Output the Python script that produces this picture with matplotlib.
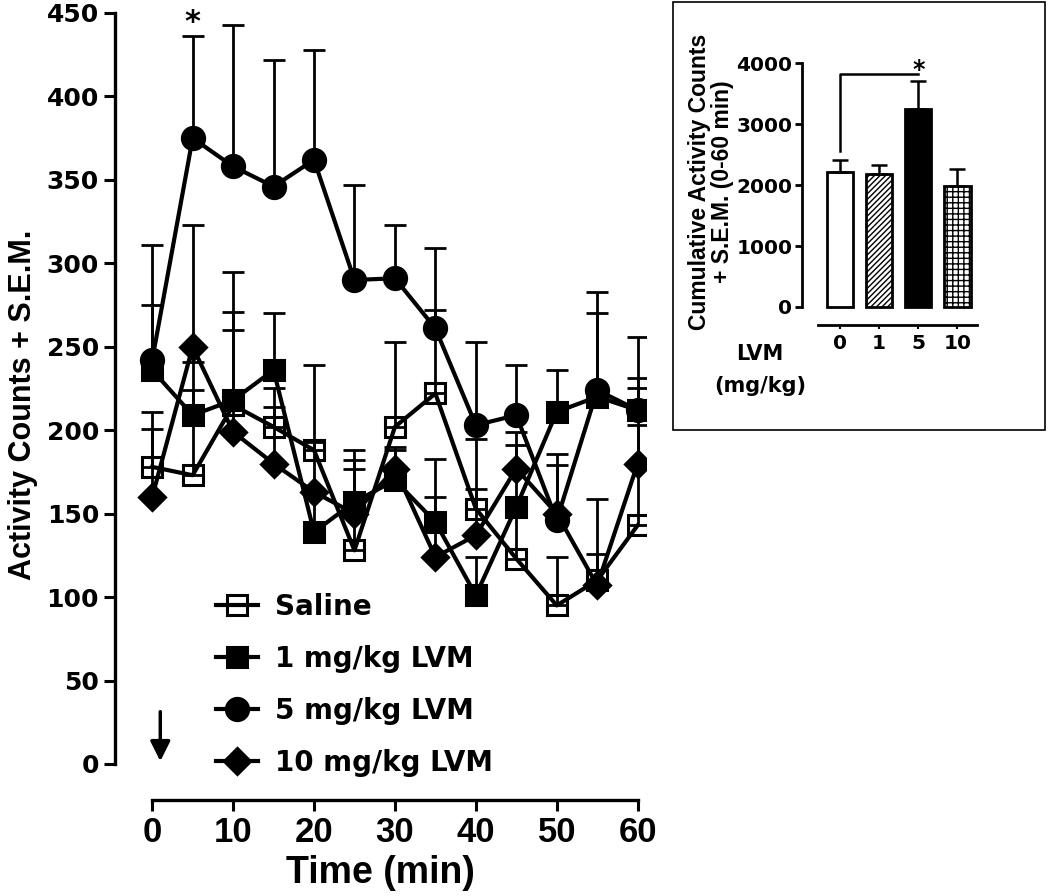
import numpy as np
import matplotlib
matplotlib.use("Agg")
import matplotlib.pyplot as plt
from matplotlib.patches import Rectangle

# =========================
# Data
# =========================
TIME_MIN = [0, 5, 10, 15, 20, 25, 30, 35, 40, 45, 50, 55, 60]

SALINE = [178, 173, 215, 202, 188, 128, 202, 222, 153, 123, 95, 110, 143]
SALINE_SEM = [33, 51, 56, 12, 51, 49, 51, 50, 42, 30, 29, 49, 82]

LVM_1 = [236, 209, 218, 236, 139, 157, 170, 145, 101, 154, 211, 220, 212]
LVM_1_SEM = [39, 32, 77, 34, 25, 31, 18, 38, 23, 37, 25, 63, 19]

LVM_5 = [242, 375, 358, 346, 362, 290, 291, 261, 203, 209, 146, 224, 212]
LVM_5_SEM = [69, 61, 85, 76, 66, 57, 32, 48, 50, 30, 40, 46, 44]

LVM_10 = [160, 250, 199, 180, 163, 150, 177, 124, 137, 177, 150, 107, 180]
LVM_10_SEM = [41, 73, 61, 45, 30, 32, 13, 36, 28, 22, 29, 19, 23]

SERIES_LABELS = ["Saline", "1 mg/kg LVM", "5 mg/kg LVM", "10 mg/kg LVM"]

# inset: cumulative counts 0-60 min
DOSE_LABELS = ["0", "1", "5", "10"]
CUMULATIVE = [2210, 2180, 3250, 1985]
CUMULATIVE_SEM = [200, 150, 450, 270]

WIDE = ["DejaVu Sans"]
NARROW = ["Liberation Sans Narrow", "Liberation Sans"]
ARIAL = ["Liberation Sans"]


def plot_time_course(fig):
    ax = fig.add_axes([0.1095, 0.1071, 0.5055, 0.8822])

    styles = [
        (SALINE, SALINE_SEM, "s", "none", 15),
        (LVM_1, LVM_1_SEM, "s", "black", 15),
        (LVM_5, LVM_5_SEM, "o", "black", 16),
        (LVM_10, LVM_10_SEM, "D", "black", 13),
    ]
    for (vals, sem, marker, mfc, ms), label in zip(styles, SERIES_LABELS):
        lower = np.zeros(len(sem))
        ax.errorbar(TIME_MIN, vals, yerr=[lower, sem], fmt="none",
                    ecolor="black", elinewidth=2.0, capsize=8, capthick=2.0)
        ax.plot(TIME_MIN, vals, color="black", lw=3.0, marker=marker,
                markersize=ms, markerfacecolor=mfc, markeredgecolor="black",
                markeredgewidth=2.2, label=label)

    ax.set_xlim(-4.6, 61)
    ax.set_ylim(-21.6, 452)
    ax.set_yticks(np.arange(0, 451, 50))
    ax.set_xticks([0, 10, 20, 30, 40, 50, 60])

    for s in ["top", "right"]:
        ax.spines[s].set_visible(False)
    ax.spines["left"].set_bounds(0, 450)
    ax.spines["bottom"].set_bounds(0, 60)
    ax.spines["left"].set_linewidth(2.4)
    ax.spines["bottom"].set_linewidth(2.4)
    ax.tick_params(axis="both", direction="out", length=8, width=2.2)

    for lab in ax.get_yticklabels():
        lab.set_family(WIDE)
        lab.set_fontweight("bold")
        lab.set_fontsize(18)
    for lab in ax.get_xticklabels():
        lab.set_family(NARROW)
        lab.set_fontweight("bold")
        lab.set_fontsize(25)

    ax.set_xlabel("Time (min)", family=NARROW, fontweight="bold",
                  fontsize=27, labelpad=4)
    ax.set_ylabel("Activity Counts + S.E.M.", family=ARIAL, fontweight="bold",
                  fontsize=22, labelpad=6)

    # significance star and injection arrow
    ax.text(5, 444, "*", ha="center", va="center", fontsize=22,
            fontweight="bold", family=WIDE)
    ax.annotate("", xy=(1, 0), xytext=(1, 33),
                arrowprops=dict(arrowstyle="-|>", lw=2.5, color="black",
                                mutation_scale=30))

    ax.legend(loc="upper left", bbox_to_anchor=(0.17, 0.276),
              frameon=False, handlelength=1.5, handletextpad=0.6,
              labelspacing=0.86, borderaxespad=0,
              prop=dict(family=WIDE, weight="bold", size=20))
    return ax


def plot_inset(fig):
    # frame around the inset
    fig.add_artist(Rectangle((673 / 1050, 1 - 430 / 896), 372 / 1050,
                             428 / 896, transform=fig.transFigure,
                             fill=False, lw=1.2, ec="black"))

    ax = fig.add_axes([0.7638, 0.6373, 0.1667, 0.2957])
    xpos = np.arange(len(DOSE_LABELS))
    faces = ["white", "white", "black", "white"]
    hatches = [None, "//////", None, "+++"]
    for i in range(len(xpos)):
        ax.bar(xpos[i], CUMULATIVE[i], width=0.67, color=faces[i],
               edgecolor="black", linewidth=2.0, hatch=hatches[i],
               yerr=[[0], [CUMULATIVE_SEM[i]]], capsize=6,
               error_kw=dict(elinewidth=1.8, capthick=1.8, ecolor="black"))

    # bracket 0 vs 5 mg/kg
    ax.plot([0, 0, 2], [2560, 3820, 3820], color="black", lw=1.8)
    ax.text(2, 3880, "*", ha="center", va="center", fontsize=17,
            fontweight="bold", family=WIDE)

    ax.set_xlim(-0.97, 3.5)
    ax.set_ylim(-295, 4050)
    ax.set_yticks([0, 1000, 2000, 3000, 4000])
    ax.set_xticks(xpos)
    ax.set_xticklabels(DOSE_LABELS)
    for s in ["top", "right"]:
        ax.spines[s].set_visible(False)
    ax.spines["left"].set_bounds(0, 4000)
    ax.spines["bottom"].set_bounds(-0.56, 3.5)
    ax.spines["left"].set_linewidth(2.0)
    ax.spines["bottom"].set_linewidth(2.0)
    ax.tick_params(axis="y", direction="out", length=5, width=2.0, pad=2)
    ax.tick_params(axis="x", direction="out", length=3, width=1.5)
    for lab in ax.get_yticklabels() + ax.get_xticklabels():
        lab.set_family(WIDE)
        lab.set_fontweight("bold")
        lab.set_fontsize(14.5)

    ax.set_ylabel("Cumulative Activity Counts\n+ S.E.M. (0-60 min)",
                  family=ARIAL, fontweight="bold", fontsize=16.5,
                  linespacing=1.0)
    ax.yaxis.set_label_coords(-0.39, 0.54)
    fig.text(760 / 1050, 1 - 370 / 896, "LVM\n(mg/kg)", ha="center",
             va="center", family=WIDE, fontweight="bold", fontsize=15,
             linespacing=1.7)
    return ax


def main():
    fig = plt.figure(figsize=(10.5, 8.96), dpi=100)
    plot_time_course(fig)
    plot_inset(fig)
    fig.savefig("out.png", dpi=100, facecolor="white")


if __name__ == "__main__":
    main()
